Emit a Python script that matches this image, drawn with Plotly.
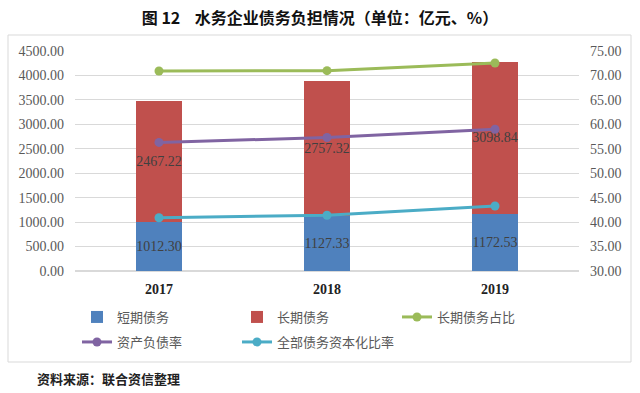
import plotly.graph_objects as go

years = ["2017", "2018", "2019"]
short_debt = [1012.30, 1127.33, 1172.53]
long_debt = [2467.22, 2757.32, 3098.84]
long_share = [70.91, 70.98, 72.55]
asset_liab = [56.3, 57.3, 59.0]
cap_ratio = [40.9, 41.4, 43.3]

W, H = 640, 393
L, R, T, B = 75, 61, 51, 122
pw, ph = W - L - R, H - T - B

def px_x(x):
    return (x - L) / pw

def px_y(y):
    return (H - B - y) / ph

label_font = dict(family="Liberation Serif", size=14, color="#404040")

fig = go.Figure()
fig.add_trace(go.Bar(x=years, y=short_debt, name="短期债务", marker_color="#4f81bd",
                     width=0.27, texttemplate="%{y:.2f}", textposition="inside",
                     insidetextanchor="middle", constraintext="none", textangle=0,
                     insidetextfont=label_font, marker_line_width=0, legend="legend"))
fig.add_trace(go.Bar(x=years, y=long_debt, name="长期债务", marker_color="#c0504d",
                     width=0.27, texttemplate="%{y:.2f}", textposition="inside",
                     insidetextanchor="middle", constraintext="none", textangle=0,
                     insidetextfont=label_font, marker_line_width=0, legend="legend"))
fig.add_trace(go.Scatter(x=years, y=long_share, name="长期债务占比", yaxis="y2",
                         mode="lines+markers", line=dict(color="#9bbb59", width=3),
                         marker=dict(size=9, color="#9bbb59"), legend="legend"))
fig.add_trace(go.Scatter(x=years, y=asset_liab, name="资产负债率", yaxis="y2",
                         mode="lines+markers", line=dict(color="#8064a2", width=3),
                         marker=dict(size=9, color="#8064a2"), legend="legend2"))
fig.add_trace(go.Scatter(x=years, y=cap_ratio, name="全部债务资本化比率", yaxis="y2",
                         mode="lines+markers", line=dict(color="#4bacc6", width=3),
                         marker=dict(size=9, color="#4bacc6"), legend="legend2"))

tick_font = dict(family="Liberation Serif", size=14, color="#595959")
legend_font = dict(family="Noto Sans CJK SC", size=13, color="#595959")

fig.update_layout(
    width=W, height=H,
    margin=dict(l=L, r=R, t=T, b=B),
    paper_bgcolor="white", plot_bgcolor="white",
    barmode="stack",
    showlegend=True,
    title=dict(text="<b>图 12    水务企业债务负担情况（单位：亿元、%）</b>",
               x=0.5, xanchor="center", y=1 - 18 / H, yanchor="middle",
               font=dict(family="Noto Sans CJK SC", size=16, color="#111111")),
    xaxis=dict(type="category", showgrid=False, showline=False, ticks="",
               tickfont=dict(family="Liberation Serif", size=14, color="#222222", weight="bold"),
               ticklabelstandoff=8),
    yaxis=dict(range=[0, 4500], dtick=500, tickformat=".2f", showgrid=True,
               gridcolor="#d9d9d9", gridwidth=1, zeroline=True, zerolinecolor="#d9d9d9",
               showline=False, ticks="", tickfont=tick_font, ticklabelstandoff=10),
    yaxis2=dict(range=[30, 75], dtick=5, tickformat=".2f", overlaying="y", side="right",
                showgrid=False, zeroline=False, showline=False, ticks="", tickfont=tick_font,
                ticklabelstandoff=10),
    legend=dict(orientation="h", x=px_x(77), xanchor="left", y=px_y(317), yanchor="middle",
                entrywidth=115, entrywidthmode="pixels", traceorder="normal",
                font=legend_font, bgcolor="rgba(0,0,0,0)"),
    legend2=dict(orientation="h", x=px_x(77), xanchor="left", y=px_y(342), yanchor="middle",
                 entrywidth=115, entrywidthmode="pixels", traceorder="normal",
                 font=legend_font, bgcolor="rgba(0,0,0,0)"),
    shapes=[dict(type="rect", xref="paper", yref="paper",
                 x0=px_x(8), x1=px_x(631), y0=px_y(362), y1=px_y(35),
                 line=dict(color="#d9d9d9", width=1), layer="below")],
    annotations=[dict(text="<b>资料来源：联合资信整理</b>", xref="paper", yref="paper",
                      x=px_x(35), y=px_y(378), xanchor="left", yanchor="middle",
                      showarrow=False,
                      font=dict(family="Noto Sans CJK SC", size=13, color="#222222"))],
)

fig.write_html("out.html", config={"displayModeBar": False},
               post_script="document.body.style.margin='0';document.body.style.padding='0';")
